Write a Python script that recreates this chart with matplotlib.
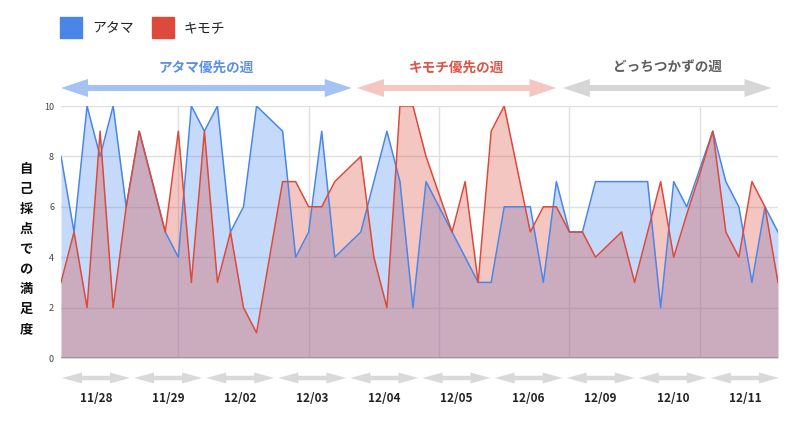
import numpy as np
import matplotlib.pyplot as plt
from matplotlib.patches import Polygon, Rectangle
from matplotlib.transforms import IdentityTransform

plt.rcParams['font.family'] = ['Noto Sans CJK JP', 'DejaVu Sans']

# self-rated satisfaction, one value per slot
atama = [8, 5, 10, 8, 10, 6, 9, 7, 5, 4,
         10, 9, 10, 5, 6, 10, 9.5, 9, 4, 5,
         9, 4, 4.5, 5, 7, 9, 7, 2, 7, 6,
         5, 4, 3, 3, 6, 6, 6, 3, 7, 5,
         5, 7, 7, 7, 7, 7, 2, 7, 6, 7.5,
         9, 7, 6, 3, 6, 5]
kimochi = [3, 5, 2, 9, 2, 6, 9, 7, 5, 9,
           3, 9, 3, 5, 2, 1, 4, 7, 7, 6,
           6, 7, 7.5, 8, 4, 2, 10, 10, 8, 6.5,
           5, 7, 3, 9, 10, 7.5, 5, 6, 6, 5,
           5, 4, 4.5, 5, 3, 5, 7, 4, 5.7, 7.3,
           9, 5, 4, 7, 6, 3]
series_names = ['アタマ', 'キモチ']
dates = ['11/28', '11/29', '12/02', '12/03', '12/04',
         '12/05', '12/06', '12/09', '12/10', '12/11']
weeks = ['アタマ優先の週', 'キモチ優先の週', 'どっちつかずの週']
ylabel = '自己採点での満足度'

W, H = 800, 421
BLUE = '#4a86e8'
RED = '#db4a3b'

fig = plt.figure(figsize=(W / 100, H / 100), dpi=100)
ax = fig.add_axes([61 / W, 1 - 358 / H, 717 / W, 252 / H])

x = np.arange(len(atama))
ax.fill_between(x, 0, atama, color='#4285f4', alpha=0.3, lw=0)
ax.fill_between(x, 0, kimochi, color='#db4437', alpha=0.3, lw=0)
ax.plot(x, atama, color=BLUE, lw=1.1)
ax.plot(x, kimochi, color=RED, lw=1.1)

ax.set_xlim(0, len(atama) - 1)
ax.set_ylim(0, 10)
ax.set_yticks(range(0, 11, 2))
ax.set_xticks(range(9, len(atama), 10))
ax.set_xticklabels([])
ax.grid(True, color='#e0e0e0', lw=1)
ax.set_axisbelow(True)
ax.axhline(0, color='#999999', lw=1.5, zorder=5)
ax.tick_params(length=0, labelsize=6.5, labelcolor='#444444', pad=5)
for s in ax.spines.values():
    s.set_visible(False)


def px(i):
    # data index -> figure pixel x
    return ax.transData.transform((i, 0))[0]


def darrow(x0, x1, y, shaft, head_w, head_l, color):
    yy = H - y
    pts = [(x0, yy), (x0 + head_l, yy + head_w / 2), (x0 + head_l, yy + shaft / 2),
           (x1 - head_l, yy + shaft / 2), (x1 - head_l, yy + head_w / 2), (x1, yy),
           (x1 - head_l, yy - head_w / 2), (x1 - head_l, yy - shaft / 2),
           (x0 + head_l, yy - shaft / 2), (x0 + head_l, yy - head_w / 2)]
    fig.add_artist(Polygon(pts, closed=True, transform=IdentityTransform(),
                           facecolor=color, edgecolor='none'))


def ftext(xp, yp, s, **kw):
    fig.text(xp / W, 1 - yp / H, s, ha='center', va='center', **kw)


# legend
for k, (name, col) in enumerate(zip(series_names, [BLUE, RED])):
    x0 = 60 + 92 * k
    fig.add_artist(Rectangle((x0 / W, 1 - 38 / H), 22 / W, 21 / H,
                             transform=fig.transFigure, color=col))
    fig.text((x0 + 32) / W, 1 - 28 / H, name, ha='left', va='center',
             fontsize=10, color='#222222')

# week arrows on top
spans = [(0, 22.3), (22.7, 38.0), (38.5, 54.5)]
arrow_cols = ['#a4c2f4', '#f4c7c3', '#d6d6d6']
text_cols = ['#5b8fe6', '#dc5446', '#5f5f5f']
for (a, b), name, ac, tc in zip(spans, weeks, arrow_cols, text_cols):
    x0, x1 = px(a), px(b)
    darrow(x0, x1, 88, 6, 18, 27, ac)
    ftext((x0 + x1) / 2, 68, name, fontsize=9.8, weight='bold', color=tc)

# date arrows below
slot = 72.1
for k, d in enumerate(dates):
    x0 = 62 + slot * k
    darrow(x0, x0 + 68, 378, 4.5, 11, 20, '#d9d9d9')
    ftext(x0 + 34, 398, d, fontsize=8.5, weight='bold', color='#222222')

# vertical y label
ftext(26, 249, '\n'.join(ylabel), fontsize=9.5, weight='bold',
      color='#111111', linespacing=1.55)

fig.savefig('out.png', dpi=100)
